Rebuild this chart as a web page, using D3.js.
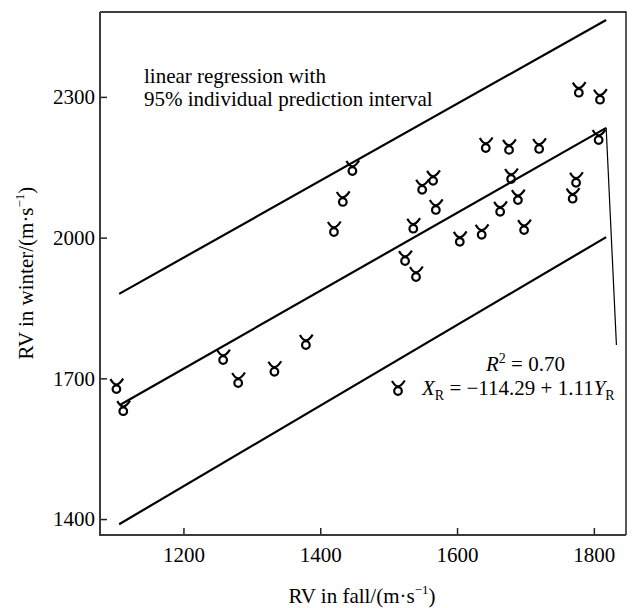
<!DOCTYPE html>
<meta charset="utf-8">
<head>
<style>
body { margin: 0; background: #fff; }
text { font-family: "Liberation Serif", "Times New Roman", serif; fill: #000; }
.axis text { font-size: 21px; }
.axis line { stroke: #222; stroke-width: 1.5px; }
.fit { fill: none; stroke: #000; stroke-width: 2.2px; }
.mark { fill: none; stroke: #000; stroke-width: 2.2px; }
</style>
</head>
<body>
<svg width="635" height="608"></svg>
<script src="https://cdn.jsdelivr.net/npm/d3@7"></script>
<script>
// values
var fall   = [1102, 1112, 1258, 1280, 1333, 1379, 1420, 1433, 1447, 1524, 1540, 1536, 1549, 1565, 1569,
              1604, 1636, 1642, 1663, 1676, 1679, 1689, 1698, 1720, 1769, 1774, 1778, 1809, 1807];
var winter = [1677, 1630, 1739, 1690, 1714, 1771, 2012, 2076, 2142, 1950, 1916, 2019, 2102, 2121, 2059,
              1991, 2006, 2191, 2055, 2187, 2125, 2080, 2016, 2189, 2083, 2117, 2309, 2294, 2208];

// regression line and 95% prediction bounds (start / end)
var fitLine   = [[1107, 1643], [1818, 2234]];
var upperLine = [[1106, 1880], [1818, 2464]];
var lowerLine = [[1106, 1389], [1818, 2001]];
var leader    = [[1818, 2234], [1833, 1771]];

var xTicks = [1200, 1400, 1600, 1800],
    yTicks = [1400, 1700, 2000, 2300];

var svg = d3.select("svg"),
    margin = {top: 12, right: 9, bottom: 73, left: 100},
    width = +svg.attr("width") - margin.left - margin.right,
    height = +svg.attr("height") - margin.top - margin.bottom,
    g = svg.append("g").attr("transform", "translate(" + margin.left + "," + margin.top + ")");

var x = d3.scaleLinear().domain([1078, 1847]).range([0, width]);
var y = d3.scaleLinear().domain([1366, 2481]).range([height, 0]);

var line = d3.line()
    .x(function(d) { return x(d[0]); })
    .y(function(d) { return y(d[1]); });

// axes with inward ticks
var gx = g.append("g")
    .attr("class", "axis")
    .attr("transform", "translate(0," + height + ")")
    .call(d3.axisBottom(x).tickValues(xTicks).tickFormat(d3.format("d")).tickSize(-7).tickSizeOuter(0).tickPadding(12));
var gy = g.append("g")
    .attr("class", "axis")
    .call(d3.axisLeft(y).tickValues(yTicks).tickFormat(d3.format("d")).tickSize(-7).tickSizeOuter(0).tickPadding(5));
gx.select(".domain").remove();
gy.select(".domain").remove();

// frame
g.append("path").attr("d", "M0,0H" + width + "V" + height)
    .attr("fill", "none").attr("stroke", "#000").attr("stroke-width", 1.3);
g.append("path").attr("d", "M0,0V" + height + "H" + width)
    .attr("fill", "none").attr("stroke", "#3a3a3a").attr("stroke-width", 2);

// lines
[upperLine, fitLine, lowerLine].forEach(function(l) {
  g.append("path").datum(l).attr("class", "fit").attr("d", line);
});
g.append("path").datum(leader).attr("fill", "none").attr("stroke", "#000")
    .attr("stroke-width", 1.2).attr("d", line);

// taurus-like marker
function marker(sel) {
  sel.append("circle").attr("r", 3.8).attr("class", "mark");
  sel.append("path").attr("class", "mark")
      .attr("d", "M-6,-10 Q-2.8,-4.6 0,-4.6 Q3,-4.6 6.8,-10.5");
}

g.selectAll(".pt")
    .data(d3.range(fall.length))
  .enter().append("g")
    .attr("class", "pt")
    .attr("transform", function(i) { return "translate(" + x(fall[i]) + "," + y(winter[i]) + ")"; })
    .each(function() { marker(d3.select(this)); });

// annotations
svg.append("text").attr("x", 144).attr("y", 83).style("font-size", "21px")
    .text("linear regression with");
svg.append("text").attr("x", 144).attr("y", 106).style("font-size", "21px")
    .text("95% individual prediction interval");

var r2 = svg.append("text").attr("x", 486).attr("y", 371).style("font-size", "21px");
r2.append("tspan").style("font-style", "italic").text("R");
r2.append("tspan").attr("dy", -8).style("font-size", "14px").text("2");
r2.append("tspan").attr("dy", 8).text(" = 0.70");

svg.append("g").attr("transform", "translate(398,391)").call(marker);

var eq = svg.append("text").attr("x", 422).attr("y", 395).style("font-size", "21px");
eq.append("tspan").style("font-style", "italic").text("X");
eq.append("tspan").attr("dy", 5).style("font-size", "14px").text("R");
eq.append("tspan").attr("dy", -5).text(" = \u2212114.29 + 1.11");
eq.append("tspan").style("font-style", "italic").text("Y");
eq.append("tspan").attr("dy", 5).style("font-size", "14px").text("R");

// axis titles
var xt = svg.append("text").attr("x", margin.left + width / 2 - 1).attr("y", 603)
    .attr("text-anchor", "middle").style("font-size", "21px");
xt.append("tspan").text("RV in fall/(m\u00b7s");
xt.append("tspan").attr("dy", -9).style("font-size", "13px").text("\u22121");
xt.append("tspan").attr("dy", 9).text(")");

var yt = svg.append("text").attr("transform", "translate(33,273) rotate(-90)")
    .attr("text-anchor", "middle").style("font-size", "21px");
yt.append("tspan").text("RV in winter/(m\u00b7s");
yt.append("tspan").attr("dy", -9).style("font-size", "13px").text("\u22121");
yt.append("tspan").attr("dy", 9).text(")");
</script>
</body>
</html>
